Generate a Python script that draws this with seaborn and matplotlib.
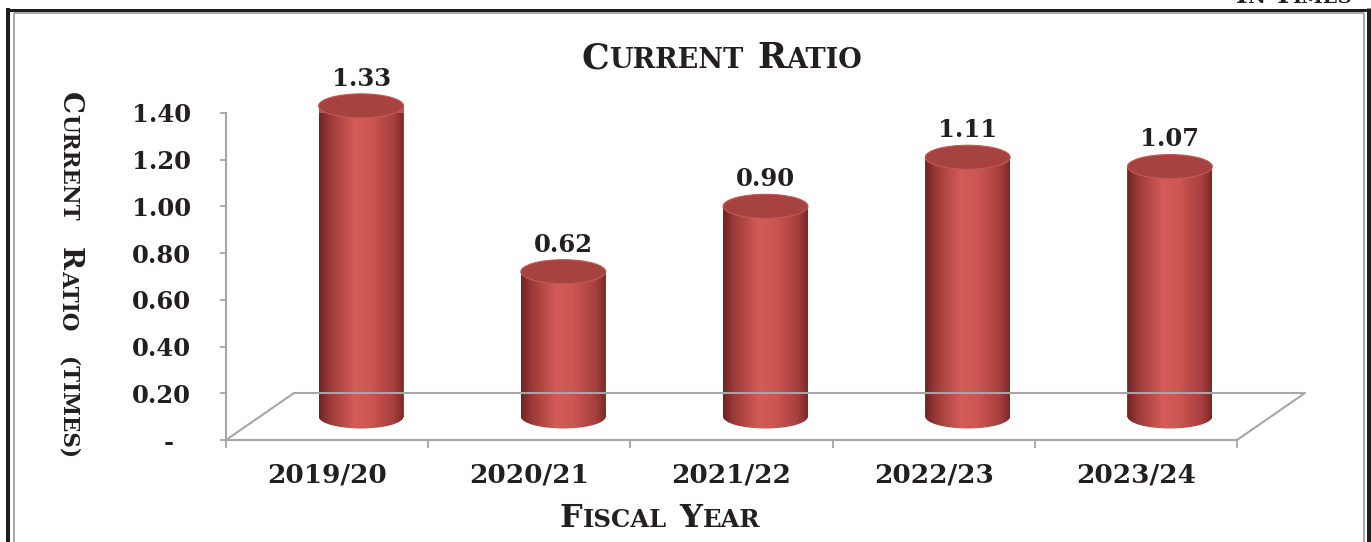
import numpy as np
import pandas as pd
import matplotlib
matplotlib.use("Agg")
import matplotlib.pyplot as plt
import seaborn as sns
from matplotlib.transforms import ScaledTranslation, Affine2D, IdentityTransform
from matplotlib.patches import Ellipse, PathPatch
from matplotlib.path import Path
from matplotlib.colors import LinearSegmentedColormap
from matplotlib.lines import Line2D
from matplotlib.ticker import FixedLocator

# ---------------- data ----------------
years = ["2019/20", "2020/21", "2021/22", "2022/23", "2023/24"]
ratios = [1.33, 0.62, 0.90, 1.11, 1.07]
ytick_values = [0.0, 0.2, 0.4, 0.6, 0.8, 1.0, 1.2, 1.4]
ytick_labels = ["-\u2007", "0.20", "0.40", "0.60", "0.80", "1.00", "1.20", "1.40"]
title_text = "Current Ratio"
xlabel_text = "Fiscal Year"
ylabel_text = "Current Ratio (times)"
unit_text = "In Times"

# ---------------- style ----------------
sns.set_theme(style="white")
plt.rcParams["font.family"] = ["DejaVu Serif"]
plt.rcParams["font.weight"] = "bold"
TXT = "#231f20"
GRID = "#a6a6a6"

W, H, DPI = 1371, 542, 100
fig = plt.figure(figsize=(W / DPI, H / DPI), dpi=DPI)
fig.patch.set_facecolor("white")
ax = fig.add_axes([226 / W, 1 - 440 / H, (1237 - 226) / W, (440 - 113) / H])
ax.set_facecolor("none")

df = pd.DataFrame({"year": years, "ratio": ratios})
sns.barplot(data=df, x="year", y="ratio", color="#C44E4B", width=0.42,
            saturation=1, ax=ax, zorder=3, linewidth=0)
ax.set_xlim(-0.5, len(years) - 0.5)
ax.set_ylim(0, 1.4)

# axes styling
for s in ["top", "right"]:
    ax.spines[s].set_visible(False)
for s in ["left", "bottom"]:
    ax.spines[s].set_color(GRID)
    ax.spines[s].set_linewidth(1.5)
ax.set_yticks(ytick_values, ytick_labels)
ax.tick_params(axis="y", length=4.3, width=1.3, color=GRID, pad=21,
               labelsize=17.5, labelcolor=TXT, left=True)
ax.tick_params(axis="x", which="major", length=0, pad=16, labelsize=19,
               labelcolor=TXT)
ax.xaxis.set_minor_locator(FixedLocator(np.arange(-0.5, len(years), 1.0)))
ax.tick_params(axis="x", which="minor", length=6, width=1.3, color=GRID,
               bottom=True)
ax.set_xlabel("")
ax.set_ylabel("")
for lab in ax.get_xticklabels() + ax.get_yticklabels():
    lab.set_fontweight("bold")

# depth offsets (3D look)
depth_half = ScaledTranslation(34 / DPI, 23.5 / DPI, fig.dpi_scale_trans)
tr = ax.transData + depth_half

# floor parallelogram
p0 = ax.transData.transform((-0.5, 0))
p1 = ax.transData.transform((len(years) - 0.5, 0))
d = np.array([68, 47])
floor = np.array([p0, p0 + d, p1 + d, p1])
fig.add_artist(Line2D(floor[:, 0], floor[:, 1], transform=IdentityTransform(),
                      color=GRID, lw=1.5, zorder=1))

# cylinders
cmap = LinearSegmentedColormap.from_list(
    "cyl", [(0, "#6c2322"), (0.12, "#9a3937"), (0.42, "#d35c57"),
            (0.62, "#cc5652"), (0.88, "#a73f3d"), (1, "#7a2928")])
ppu = ax.transData.transform((0, 1))[1] - ax.transData.transform((0, 0))[1]
eh = 24 / ppu
grad = np.linspace(0, 1, 256)[None, :]
bars = list(ax.patches)
for p in bars:
    x0, w, h = p.get_x(), p.get_width(), p.get_height()
    cx = x0 + w / 2
    p.set_transform(tr)
    p.set_clip_on(False)
    rect = Path([(x0, 0), (x0 + w, 0), (x0 + w, h), (x0, h), (x0, 0)],
                [Path.MOVETO, Path.LINETO, Path.LINETO, Path.LINETO, Path.CLOSEPOLY])
    ell = Path.unit_circle().transformed(Affine2D().scale(w / 2, eh / 2).translate(cx, 0))
    clip = PathPatch(Path.make_compound_path(rect, ell), transform=tr,
                     facecolor="none", edgecolor="none")
    im = ax.imshow(grad, cmap=cmap, extent=(x0, x0 + w, -eh, h), aspect="auto",
                   transform=tr, zorder=4, interpolation="bilinear")
    im.set_clip_path(clip)
    im.set_clip_box(None)
    top = Ellipse((cx, h), w, eh, transform=tr, facecolor="#a64240",
                  edgecolor="#c25955", lw=0.8, zorder=5, clip_on=False)
    ax.add_patch(top)
    ax.annotate(f"{h:.2f}", xy=(cx, h), xycoords=tr, xytext=(0, 14.5),
                textcoords="offset points", ha="center", va="baseline",
                fontsize=17.5, fontweight="bold", color=TXT, zorder=6,
                annotation_clip=False)
ax.set_xlim(-0.5, len(years) - 0.5)
ax.set_ylim(0, 1.4)


# ---------------- small caps helper ----------------
def smallcaps(x, y, text, big, small, rotation=0, ha="center", gap=0.35):
    renderer = fig.canvas.get_renderer()
    pieces = []
    for word in text.split(" "):
        runs = []
        for ch in word:
            sz = big if ch.isupper() else small
            if runs and runs[-1][1] == sz:
                runs[-1][0] += ch.upper()
            else:
                runs.append([ch.upper(), sz])
        pieces.append(runs)

    def measure(s, sz):
        t = fig.text(0, 0, s, fontsize=sz, fontweight="bold")
        bb = t.get_window_extent(renderer)
        t.remove()
        return bb.width

    widths = [[measure(s, sz) for s, sz in runs] for runs in pieces]
    gap_px = gap * big * DPI / 72
    total = sum(sum(ws) for ws in widths) + gap_px * (len(pieces) - 1)
    X, Y = fig.transFigure.transform((x, y))
    pos = {"center": -total / 2, "right": -total, "left": 0}[ha]
    for runs, ws in zip(pieces, widths):
        for (s, sz), wpx in zip(runs, ws):
            if rotation == 0:
                px, py = X + pos, Y
            else:
                px, py = X, Y - pos
            fx, fy = fig.transFigure.inverted().transform((px, py))
            fig.text(fx, fy, s, fontsize=sz, fontweight="bold", color=TXT,
                     rotation=rotation, rotation_mode="anchor",
                     ha="left", va="baseline")
            pos += wpx
        pos += gap_px


smallcaps(722 / W, 1 - 68 / H, title_text, 25, 19.5, gap=0.4)
smallcaps(660 / W, 1 - 527 / H, xlabel_text, 23, 17.5, gap=0.4)
smallcaps(62 / W, 1 - 92 / H, ylabel_text, 20, 15.5, rotation=-90, ha="left", gap=0.95)
smallcaps(1352 / W, 1 - 3 / H, unit_text, 18, 14, ha="right")

# ---------------- frame ----------------
def fline(xs, ys, color, lw_px):
    fig.add_artist(Line2D(xs, ys, transform=IdentityTransform(), color=color,
                          lw=lw_px * 72 / DPI, solid_capstyle="butt", zorder=10))

fline([14, 1364], [H - 12.5, H - 12.5], "#a8a8a8", 2)
fline([14, 14], [0, H - 12.5], "#a8a8a8", 2)
fline([1364, 1364], [0, H - 12.5], "#a8a8a8", 2)
fline([6, W], [H - 9.5, H - 9.5], "#1e1e1e", 3)
fline([8, 8], [0, H - 8], "#1e1e1e", 4)
fline([1368.5, 1368.5], [0, H - 8], "#1e1e1e", 5)

fig.savefig("out.png", dpi=DPI)
